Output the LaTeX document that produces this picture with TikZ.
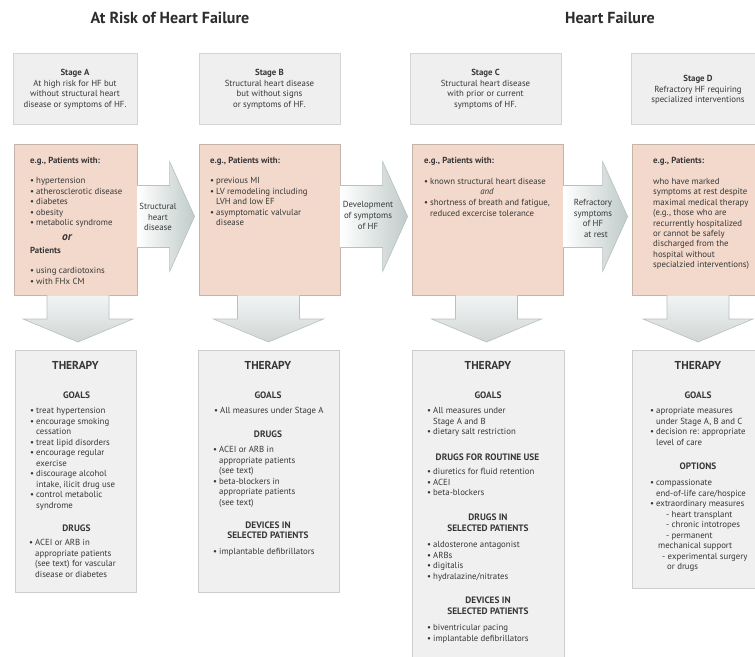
\documentclass[tikz,border=0pt]{standalone}
\usepackage{fontspec}
\setmainfont{PT Sans}
\usetikzlibrary{calc}
\definecolor{txtc}{RGB}{55,55,55}
\definecolor{ttlc}{RGB}{45,45,45}
\definecolor{stagefill}{RGB}{239,239,239}
\definecolor{stagedraw}{RGB}{212,212,212}
\definecolor{pinkfill}{RGB}{243,217,203}
\definecolor{pinkdraw}{RGB}{198,180,170}
\definecolor{therfill}{RGB}{240,240,240}
\definecolor{therdraw}{RGB}{205,205,205}
\definecolor{agray}{RGB}{192,203,201}
\definecolor{aedge}{RGB}{182,193,192}
\definecolor{vtop}{RGB}{242,244,244}
\definecolor{vbot}{RGB}{208,214,213}
\newcounter{lnc}
\newcommand\txL[4][]{\stepcounter{lnc}\edef\tn{t\arabic{lnc}}\node[txt,#1,anchor=base west] (\tn) at (#2,#3) {#4};}
\newcommand\txC[4][]{\stepcounter{lnc}\edef\tn{t\arabic{lnc}}\node[txt,#1,anchor=base] (\tn) at (#2,#3) {#4};}
\newcommand\bul{\makebox[6pt][l]{\textbullet}}
\newcommand\ind{\hspace*{6pt}}
\newcommand\HArrow[3]{%
  \coordinate (#3) at ($(#2.west |- hy)+(-4,0)$);
  \shade[hshade] ($(#1.east |- hy)+(0,-31)$) -- ($(#3)+(-25,-31)$) -- ($(#3)+(-25,-55)$) -- (#3) -- ($(#3)+(-25,55)$) -- ($(#3)+(-25,31)$) -- ($(#1.east |- hy)+(0,31)$) -- cycle;
  \draw[aline] ($(#1.east |- hy)+(0,-31)$) -- ($(#3)+(-25,-31)$) -- ($(#3)+(-25,-55)$) -- (#3) -- ($(#3)+(-25,55)$) -- ($(#3)+(-25,31)$) -- ($(#1.east |- hy)+(0,31)$);}
\newcommand\VArrow[3]{%
  \coordinate (#3) at ($(#1.south |- vy)+(#2,0)$);
  \shade[vshade] ($(#3 |- #1.south)+(-31,0)$) -- ($(#3)+(-31,-23)$) -- ($(#3)+(-55,-23)$) -- (#3) -- ($(#3)+(55,-23)$) -- ($(#3)+(31,-23)$) -- ($(#3 |- #1.south)+(31,0)$) -- cycle;
  \draw[aline] ($(#3 |- #1.south)+(-31,0)$) -- ($(#3)+(-31,-23)$) -- ($(#3)+(-55,-23)$) -- (#3) -- ($(#3)+(55,-23)$) -- ($(#3)+(31,-23)$) -- ($(#3 |- #1.south)+(31,0)$);}
\begin{document}
\begin{tikzpicture}[x=1pt,y=-1pt,
  txt/.style={inner sep=0pt, text=txtc, font=\fontsize{8.8}{10}\selectfont},
  bfx/.style={font=\fontsize{8.8}{10}\selectfont\bfseries},
  itx/.style={font=\fontsize{8.8}{10}\selectfont\itshape},
  orx/.style={font=\fontsize{11.5}{13}\selectfont\bfseries\itshape},
  thx/.style={font=\fontsize{11.5}{13}\selectfont\bfseries},
  shx/.style={font=\fontsize{9.3}{11}\selectfont\bfseries},
  ttl/.style={inner sep=0pt, text=ttlc, font=\fontsize{16}{18}\selectfont\bfseries},
  stagebox/.style={draw=stagedraw, fill=stagefill, line width=0.7pt, inner sep=0pt},
  pinkbox/.style={draw=pinkdraw, fill=pinkfill, line width=0.8pt, inner sep=0pt},
  therbox/.style={draw=therdraw, fill=therfill, line width=0.7pt, inner sep=0pt},
  hshade/.style={left color=white, right color=agray},
  vshade/.style={top color=vtop, bottom color=vbot},
  aline/.style={draw=aedge, line width=0.6pt, line join=miter}
]
\useasboundingbox (0,0) rectangle (755,656);
\clip (0,0) rectangle (755,656);
\fill[white] (0,0) rectangle (755,656);
\coordinate (hy) at (0,216.5);
\coordinate (vy) at (0,342);
% titles
\node[ttl, anchor=base] (ttlA) at (170,23) {At Risk of Heart Failure};
\node[ttl, anchor=base] (ttlB) at (610,23) {Heart Failure};
% stage boxes
\node[stagebox, minimum width=124, minimum height=71] (sa) at (75,88.5) {};
\node[stagebox, minimum width=141, minimum height=71] (sb) at (269.5,88.5) {};
\node[stagebox, minimum width=151, minimum height=71] (sc) at (485.5,88.5) {};
\node[stagebox, minimum width=134, minimum height=71] (sd) at (698,88.5) {};
% pink boxes
\node[pinkbox, minimum width=123, minimum height=151] (pa) at (75.5,219.5) {};
\node[pinkbox, minimum width=141, minimum height=151] (pb) at (269.5,219.5) {};
\node[pinkbox, minimum width=151, minimum height=151] (pc) at (487.5,219.5) {};
\node[pinkbox, minimum width=133, minimum height=151] (pd) at (698.5,219.5) {};
% therapy boxes
\node[therbox, minimum width=121, minimum height=242] (ta) at (75.5,471) {};
\node[therbox, minimum width=141, minimum height=242] (tb) at (268.5,471) {};
\node[therbox, minimum width=152, minimum height=312] (tc) at (488,506) {};
\node[therbox, minimum width=133, minimum height=238] (td) at (698.5,469) {};
% arrows
\HArrow{pa}{pb}{tip1}
\HArrow{pb}{pc}{tip2}
\HArrow{pc}{pd}{tip3}
\VArrow{pa}{2.5}{dtipA}
\VArrow{pb}{-1}{dtipB}
\VArrow{pc}{-1}{dtipC}
\VArrow{pd}{-0.5}{dtipD}
% stage texts
\txC[bfx]{75}{75.5}{Stage A}
\txC{75}{86}{At high risk for HF but}
\txC{75}{96.5}{without structural heart}
\txC{75}{107}{disease or symptoms of HF.}
\txC[bfx]{269.5}{75.5}{Stage B}
\txC{269.5}{86}{Structural heart disease}
\txC{269.5}{96.5}{but without signs}
\txC{269.5}{107}{or symptoms of HF.}
\txC[bfx]{485.5}{75.5}{Stage C}
\txC{485.5}{86}{Structural heart disease}
\txC{485.5}{96.5}{with prior or current}
\txC{485.5}{107}{symptoms of HF.}
\txC[bfx]{698}{81.5}{Stage D}
\txC{698}{92}{Refractory HF requiring}
\txC{698}{102.5}{specialized interventions}
% pink A
\txL[bfx]{30}{163}{e.g., Patients with:}
\txL{30}{183.5}{\bul hypertension}
\txL{30}{194}{\bul atherosclerotic disease}
\txL{30}{204.5}{\bul diabetes}
\txL{30}{215}{\bul obesity}
\txL{30}{225.5}{\bul metabolic syndrome}
\txC[orx]{67}{240}{or}
\txL[bfx]{30}{253}{Patients}
\txL{30}{273.5}{\bul using cardiotoxins}
\txL{30}{284}{\bul with FHx CM}
% pink B
\txL[bfx]{210}{163}{e.g., Patients with:}
\txL{210}{183.5}{\bul previous MI}
\txL{210}{194}{\bul LV remodeling including}
\txL{210}{204.5}{\ind LVH and low EF}
\txL{210}{215}{\bul asymptomatic valvular}
\txL{210}{225.5}{\ind disease}
% pink C
\txL[bfx]{424}{163}{e.g., Patients with:}
\txL{424}{184.5}{\bul known structural heart disease}
\txC[itx]{487}{194}{and}
\txL{424}{205.5}{\bul shortness of breath and fatigue,}
\txL{424}{216}{\ind reduced excercise tolerance}
% pink D
\txL[bfx]{653}{163}{e.g., Patients:}
\txL{653}{184.5}{who have marked}
\txL{653}{194.9}{symptoms at rest despite}
\txL{653}{205.3}{maximal medical therapy}
\txL{653}{215.7}{(e.g., those who are}
\txL{653}{226.1}{recurrently hospitalized}
\txL{653}{236.5}{or cannot be safely}
\txL{653}{246.9}{discharged from the}
\txL{653}{257.3}{hospital without}
\txL{653}{267.7}{specialzied interventions)}
% arrow labels
\txC{158}{209.5}{Structural}
\txC{158}{220}{heart}
\txC{158}{230.5}{disease}
\txC{368}{207.5}{Development}
\txC{368}{218.5}{of symptoms}
\txC{368}{229.5}{of HF}
\txC{593}{205.5}{Refractory}
\txC{593}{216}{symptoms}
\txC{593}{226.5}{of HF}
\txC{596}{237}{at rest}
% therapy A
\txC[thx]{75.5}{369.5}{THERAPY}
\txC[shx]{76.5}{398}{GOALS}
\txL{30}{413.5}{\bul treat hypertension}
\txL{30}{424}{\bul encourage smoking}
\txL{30}{434.5}{\ind cessation}
\txL{30}{445}{\bul treat lipid disorders}
\txL{30}{455.5}{\bul encourage regular}
\txL{30}{466}{\ind exercise}
\txL{30}{476.5}{\bul discourage alcohol}
\txL{30}{487}{\ind intake, ilicit drug use}
\txL{30}{497.5}{\bul control metabolic}
\txL{30}{508}{\ind syndrome}
\txC[shx]{76.5}{531}{DRUGS}
\txL{29}{545.5}{\bul ACEI or ARB in}
\txL{29}{556}{\ind appropriate patients}
\txL{29}{566.5}{\ind (see text) for vascular}
\txL{29}{577}{\ind disease or diabetes}
% therapy B
\txC[thx]{268}{369.5}{THERAPY}
\txC[shx]{268}{398}{GOALS}
\txL{214}{413.5}{\bul All measures under Stage A}
\txC[shx]{268}{437}{DRUGS}
\txL{213}{452.5}{\bul ACEI or ARB in}
\txL{213}{463}{\ind appropriate patients}
\txL{213}{473.5}{\ind (see text)}
\txL{213}{484}{\bul beta-blockers in}
\txL{213}{494.5}{\ind appropriate patients}
\txL{213}{505}{\ind (see text)}
\txC[shx]{268}{528}{DEVICES IN}
\txC[shx]{268}{538.5}{SELECTED PATIENTS}
\txL{213}{554.5}{\bul implantable defibrillators}
% therapy C
\txC[thx]{488}{369.5}{THERAPY}
\txC[shx]{488}{398}{GOALS}
\txL{427}{413.5}{\bul All measures under}
\txL{427}{424}{\ind Stage A and B}
\txL{427}{434.5}{\bul dietary salt restriction}
\txC[shx]{487.5}{460}{DRUGS FOR ROUTINE USE}
\txL{427}{474.5}{\bul diuretics for fluid retention}
\txL{427}{485}{\bul ACEI}
\txL{427}{495.5}{\bul beta-blockers}
\txC[shx]{488}{520}{DRUGS IN}
\txC[shx]{488}{531}{SELECTED PATIENTS}
\txL{427}{547.5}{\bul aldosterone antagonist}
\txL{427}{558}{\bul ARBs}
\txL{427}{568.5}{\bul digitalis}
\txL{427}{579}{\bul hydralazine/nitrates}
\txC[shx]{488}{603}{DEVICES IN}
\txC[shx]{488}{614}{SELECTED PATIENTS}
\txL{427}{630.5}{\bul biventricular pacing}
\txL{427}{641}{\bul implantable defibrillators}
% therapy D
\txC[thx]{698}{369.5}{THERAPY}
\txC[shx]{698}{398}{GOALS}
\txL{650}{413.5}{\bul apropriate measures}
\txL{650}{424}{\ind under Stage A, B and C}
\txL{650}{434.5}{\bul decision re: appropriate}
\txL{650}{445}{\ind level of care}
\txC[shx]{698}{469}{OPTIONS}
\txL{650}{485.5}{\bul compassionate}
\txL{650}{496}{\ind end-of-life care/hospice}
\txL{650}{506.5}{\bul extraordinary measures}
\txL{666}{517}{- heart transplant}
\txL{666}{527.5}{- chronic intotropes}
\txL{666}{538}{- permanent}
\txL{658}{548.5}{mechanical support}
\txL{662}{559}{- experimental surgery}
\txL{667}{569.5}{or drugs}
\end{tikzpicture}
\end{document}
